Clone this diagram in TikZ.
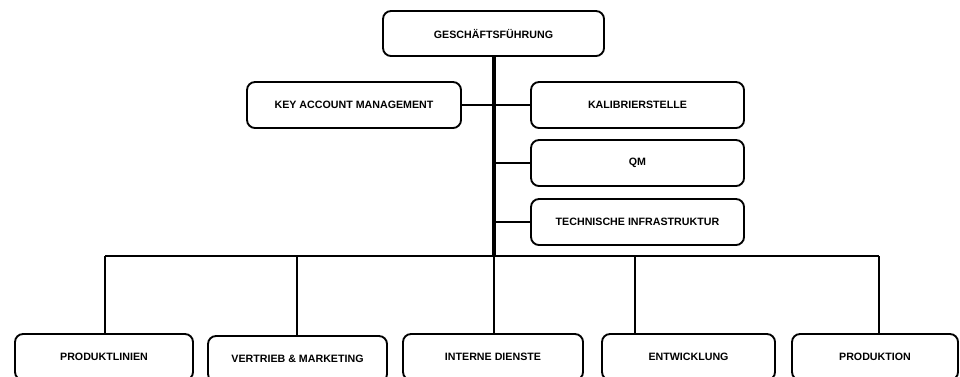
\documentclass[tikz,border=0pt]{standalone}
\usepackage{fontspec}
\setmainfont{Liberation Sans}
\usepackage{tikz}

\tikzset{orgbox/.style={draw,line width=1.4pt,rounded corners=6pt,minimum height=34.5pt,inner sep=0pt,
  font=\fontsize{8}{9.6}\selectfont\bfseries},
  thinline/.style={line width=1.2pt},
  trunkline/.style={line width=2.4pt}}

\begin{document}
\begin{tikzpicture}[x=0.75pt,y=-0.75pt]
\useasboundingbox (0,0) rectangle (960,376); \clip (0,0) rectangle (960,376);
\node[orgbox,minimum width=165.75pt,minimum height=33.75pt] (gf) at (493.5,33.5) {GESCHÄFTSFÜHRUNG};
\node[orgbox,minimum width=160.5pt] (kam) at (354,105) {KEY ACCOUNT MANAGEMENT};
\node[orgbox,minimum width=159.75pt] (kal) at (637.5,105) {KALIBRIERSTELLE};
\node[orgbox,minimum width=159.75pt] (qm) at (637.5,163) {QM};
\node[orgbox,minimum width=159.75pt] (tech) at (637.5,222) {TECHNISCHE INFRASTRUKTUR};
\node[orgbox,minimum width=133.5pt] (pl) at (104,357) {PRODUKTLINIEN};
\node[orgbox,minimum width=134.25pt] (vm) at (297.5,359) {VERTRIEB \& MARKETING};
\node[orgbox,minimum width=135pt] (id) at (493,357) {INTERNE DIENSTE};
\node[orgbox,minimum width=129.75pt] (ew) at (688.5,357) {ENTWICKLUNG};
\node[orgbox,minimum width=124.5pt] (pr) at (875,357) {PRODUKTION};
\coordinate (bus) at (494,256); \coordinate (d1) at (105,256); \coordinate (d2) at (297,256);
\coordinate (d4) at (635,256); \coordinate (d5) at (879,256);
% staff positions
\draw[thinline] (kam.east) -- (kal.west); \draw[thinline] (qm.west) -- (qm.west -| bus);
\draw[thinline] (tech.west) -- (tech.west -| bus);
% line units
\draw[thinline] (d1) -- (d5);
\draw[thinline] (d1) -- (d1 |- pl.north); \draw[thinline] (d2) -- (d2 |- vm.north);
\draw[thinline] (bus) -- (bus |- id.north); \draw[thinline] (d4) -- (d4 |- ew.north);
\draw[thinline] (d5) -- (d5 |- pr.north);
\draw[trunkline] (gf.south -| bus) -- (bus);
\end{tikzpicture}
\end{document}
